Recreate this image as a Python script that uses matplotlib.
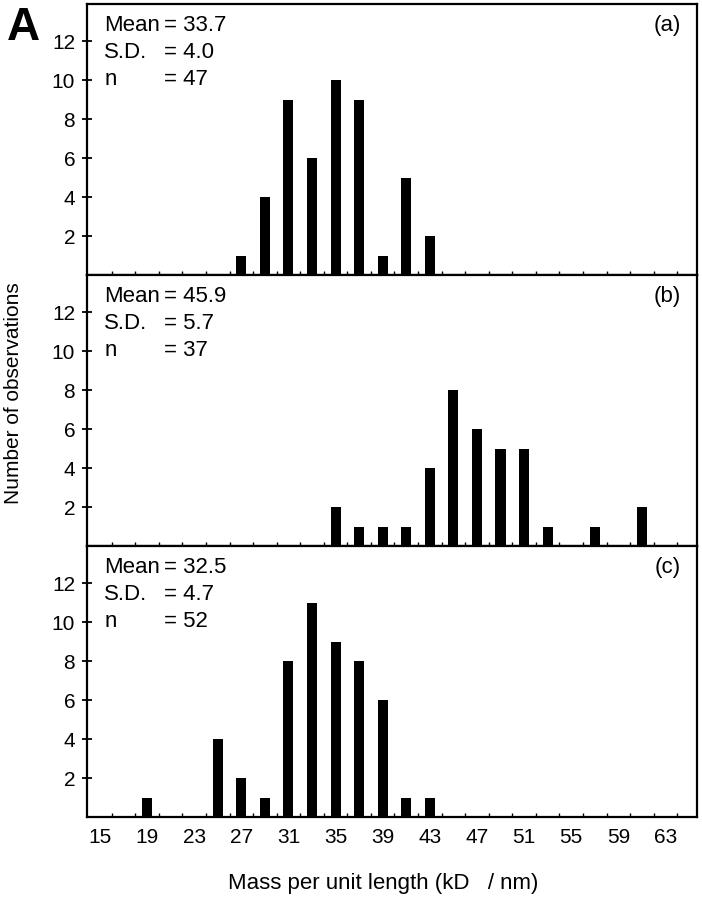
import matplotlib.pyplot as plt
import numpy as np

plt.rcParams['font.family'] = ['Liberation Sans', 'DejaVu Sans']

# bin centres (kD/nm) and counts for each panel
x_a = [27, 29, 31, 33, 35, 37, 39, 41, 43]
n_a = [1, 4, 9, 6, 10, 9, 1, 5, 2]
x_b = [35, 37, 39, 41, 43, 45, 47, 49, 51, 53, 57, 61]
n_b = [2, 1, 1, 1, 4, 8, 6, 5, 5, 1, 1, 2]
x_c = [19, 25, 27, 29, 31, 33, 35, 37, 39, 41, 43]
n_c = [1, 4, 2, 1, 8, 11, 9, 8, 6, 1, 1]

stats = [("33.7", "4.0", "47"), ("45.9", "5.7", "37"), ("32.5", "4.7", "52")]
panel_tags = ["(a)", "(b)", "(c)"]
xticks = list(range(15, 64, 4))
yticks = [2, 4, 6, 8, 10, 12]

fig = plt.figure(figsize=(7.02, 9), dpi=100)
left, width = 87 / 702, 610 / 702
h = 271 / 900
bottom0 = 83 / 900

series = [(x_a, n_a), (x_b, n_b), (x_c, n_c)]
for i, (xs, ns) in enumerate(series):
    b = bottom0 + (2 - i) * h
    ax = fig.add_axes([left, b, width, h])
    ax.bar(xs, ns, width=0.85, color='black')
    ax.set_xlim(13.9, 65.68)
    ax.set_ylim(0, 13.9)
    for s in ax.spines.values():
        s.set_linewidth(1.6)
    ax.set_yticks(yticks)
    ax.tick_params(axis='y', direction='inout', length=7, width=1.3, labelsize=15, pad=5)
    ax.set_xticks(xticks)
    ax.set_xticks(np.arange(16, 65, 2), minor=True)
    ax.tick_params(axis='x', which='major', length=0, labelsize=15, pad=8)
    ax.tick_params(axis='x', which='minor', direction='in', length=3, width=1)
    if i < 2:
        ax.set_xticklabels([])
    mean, sd, n = stats[i]
    ys = [0.900, 0.799, 0.701]
    for lab, val, yy in zip(["Mean", "S.D.", "n"], [mean, sd, n], ys):
        ax.text(0.028, yy, lab, transform=ax.transAxes, fontsize=16, va='baseline')
        ax.text(0.127, yy, "= " + val, transform=ax.transAxes, fontsize=16, va='baseline')
    ax.text(0.974, 0.900, panel_tags[i], transform=ax.transAxes, fontsize=16,
            va='baseline', ha='right')

fig.text(0.010, 0.993, "A", fontsize=33, fontweight='bold', va='top', ha='left')
fig.text(13.5 / 702, 1 - 393 / 900, "Number of observations", rotation=90, fontsize=15,
         va='center', ha='center')
fig.text(383 / 702, 1 - 884 / 900, "Mass per unit length (kD   / nm)", fontsize=16,
         va='center', ha='center')

fig.savefig("out.png", dpi=100)
